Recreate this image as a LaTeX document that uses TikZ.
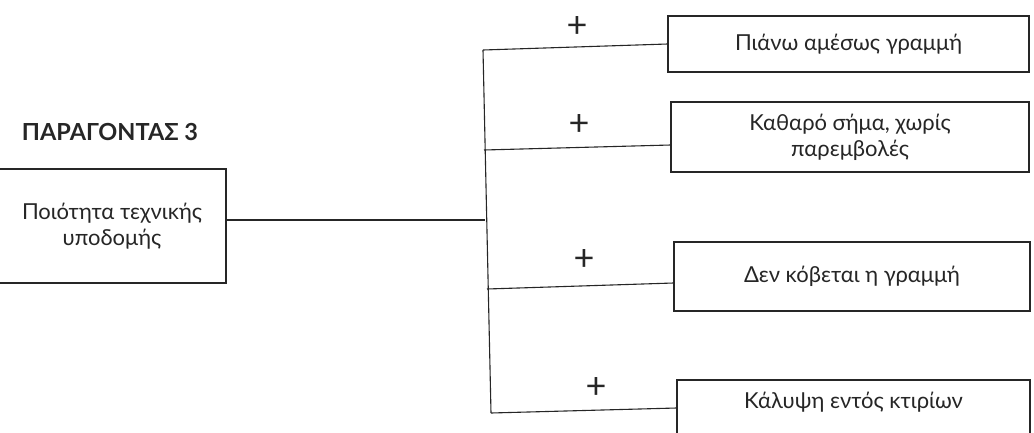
\documentclass[tikz,border=0pt]{standalone}
\usepackage{fontspec}
\setmainfont{Lato}
\begin{document}
\begin{tikzpicture}[x=1pt,y=-1pt,
  ln/.style={line width=1.1pt, draw=black!85},
  box/.style={ln, rectangle, inner sep=0pt, align=center,
    font=\fontsize{22}{26}\selectfont, text=black!85},
  plus/.style={font=\fontsize{36}{36}\selectfont, text=black!85, inner sep=0pt},
  title/.style={font=\bfseries\fontsize{23.5}{26}\selectfont, text=black!85, inner sep=0pt}]
\useasboundingbox (0,0) rectangle (1034,432);
\clip (0,0) rectangle (1034,432);
\fill[white] (0,0) rectangle (1034,432);

% left box
\node[title] (t) at (110,132) {ΠΑΡΑΓΟΝΤΑΣ 3};
\node[box, minimum width=228pt, minimum height=114pt] (l) at (112,226)
  {Ποιότητα τεχνικής\\υποδομής};

% right boxes
\node[box, minimum width=361pt, minimum height=56pt] (b1) at (848.5,44) {Πιάνω αμέσως γραμμή};
\node[box, minimum width=358pt, minimum height=70pt] (b2) at (850,137) {Καθαρό σήμα, χωρίς\\παρεμβολές};
\node[box, minimum width=356pt, minimum height=69pt] (b3) at (852,276.5) {Δεν κόβεται η γραμμή};
\node[box, minimum width=353pt, minimum height=70pt] (b4) at (853.5,415) {};
\node[box, draw=none] (b4t) at (853.5,402) {Κάλυψη εντός κτιρίων};

% spine
\coordinate (s1) at (483,50);
\coordinate (s2) at (484,150);
\coordinate (sm) at (485,220);
\coordinate (s3) at (487,289);
\coordinate (s4) at (491,413);
\draw[ln] (s1) -- (s4);
\draw[ln] ([yshift=6pt]l.east) -- (sm);
\draw[ln] (s1) -- (b1.west);
\draw[ln] (s2) -- ([yshift=-8pt]b2.west);
\draw[ln] (s3) -- ([yshift=-6.5pt]b3.west);
\draw[ln] (s4) -- ([yshift=7pt]b4.west);

% plus signs
\node[plus] (p1) at (577,27) {+};
\node[plus] (p2) at (579,125) {+};
\node[plus] (p3) at (584,260) {+};
\node[plus] (p4) at (596,388) {+};
\end{tikzpicture}
\end{document}
